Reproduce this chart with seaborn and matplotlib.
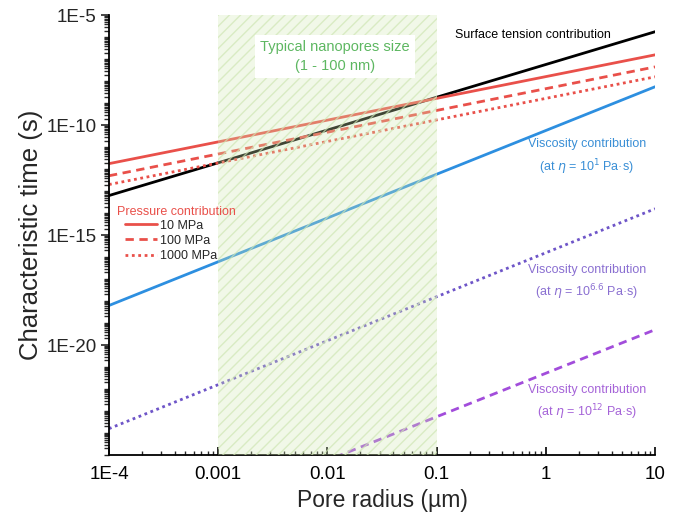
import numpy as np
import pandas as pd
import matplotlib
matplotlib.use("Agg")
import matplotlib.pyplot as plt
import seaborn as sns
from matplotlib.ticker import FixedLocator, FixedFormatter, LogLocator, NullFormatter
from matplotlib.lines import Line2D

# ---------------- data ----------------
radius = [1e-4, 10]                      # pore radius (µm), line end points
surface_tension = [6.3e-14, 1.78e-6]
pressure_10 = [1.78e-12, 1.58e-7]
pressure_100 = [5.0e-13, 4.47e-8]
pressure_1000 = [2.0e-13, 1.58e-8]
viscosity_1 = [6.3e-19, 5.6e-9]
viscosity_6_6 = [1.58e-24, 1.58e-14]
viscosity_12 = [6.3e-30, 5.0e-20]

series_names = ["Surface tension", "10 MPa", "100 MPa", "1000 MPa",
                "eta 1", "eta 6.6", "eta 12"]
series_values = [surface_tension, pressure_10, pressure_100, pressure_1000,
                 viscosity_1, viscosity_6_6, viscosity_12]
pressure_labels = ["10 MPa", "100 MPa", "1000 MPa"]

xtick_values = [1e-4, 1e-3, 1e-2, 1e-1, 1, 10]
xtick_labels = ["1E-4", "0.001", "0.01", "0.1", "1", "10"]
ytick_values = [1e-20, 1e-15, 1e-10, 1e-5]
ytick_labels = ["1E-20", "1E-15", "1E-10", "1E-5"]
nanopore_range = [1e-3, 1e-1]

df = pd.DataFrame({
    "series": np.repeat(series_names, len(radius)),
    "radius": radius * len(series_names),
    "time": np.concatenate(series_values),
})

# ---------------- style ----------------
sns.set_style("ticks")
plt.rcParams["font.family"] = ["Liberation Sans", "DejaVu Sans"]
plt.rcParams["mathtext.fontset"] = "dejavusans"
plt.rcParams["hatch.linewidth"] = 1.0

RED = "#E9504A"
BLUE = "#2D8FE0"
PURPLE1 = "#6E55C8"
PURPLE2 = "#A24DDB"
GREEN_TXT = "#5DB761"

styles = {
    "Surface tension": dict(color="black", ls="-"),
    "10 MPa": dict(color=RED, ls="-"),
    "100 MPa": dict(color=RED, ls=(0, (3, 2))),
    "1000 MPa": dict(color=RED, ls=(0, (1, 1.3))),
    "eta 1": dict(color=BLUE, ls="-"),
    "eta 6.6": dict(color=PURPLE1, ls=(0, (1, 1.3))),
    "eta 12": dict(color=PURPLE2, ls=(0, (3, 2))),
}

fig = plt.figure(figsize=(6.81, 5.18), dpi=100)
ax = fig.add_axes([0.160, 0.1216, 0.802, 0.849])
ax.set_xscale("log")
ax.set_yscale("log")

for name in series_names:
    st = styles[name]
    sns.lineplot(data=df[df["series"] == name], x="radius", y="time", ax=ax,
                 color=st["color"], linestyle=st["ls"], linewidth=2,
                 estimator=None, sort=False, legend=False, zorder=2)

# nanopore band (drawn over the lines, semi-transparent)
ax.axvspan(nanopore_range[0], nanopore_range[1], facecolor="#D3EAB3",
           edgecolor="none", alpha=0.3, zorder=3)
ax.axvspan(nanopore_range[0], nanopore_range[1], facecolor="none",
           edgecolor="#CFE6B4", hatch="///", linewidth=0, alpha=0.7, zorder=3)

ax.set_xlim(1e-4, 10)
ax.set_ylim(1e-25, 1e-5)

# ticks
ax.xaxis.set_major_locator(FixedLocator(xtick_values))
ax.xaxis.set_major_formatter(FixedFormatter(xtick_labels))
ax.xaxis.set_minor_locator(LogLocator(base=10, subs=np.arange(2, 10), numticks=50))
ax.xaxis.set_minor_formatter(NullFormatter())
ax.yaxis.set_major_locator(FixedLocator(ytick_values))
ax.yaxis.set_major_formatter(FixedFormatter(ytick_labels))
ax.yaxis.set_minor_locator(LogLocator(base=10, subs=np.arange(1, 10), numticks=50))
ax.yaxis.set_minor_formatter(NullFormatter())
ax.tick_params(axis="x", which="major", direction="in", length=6, width=1.2,
               labelsize=13.5, pad=8, colors="black")
ax.tick_params(axis="x", which="minor", direction="in", length=3, width=1)
ax.tick_params(axis="y", which="major", direction="out", length=6, width=1.2,
               labelsize=13.5, pad=3)
ax.tick_params(axis="y", which="minor", direction="out", length=3.5, width=1)

for s in ["top", "right"]:
    ax.spines[s].set_visible(False)
for s in ["left", "bottom"]:
    ax.spines[s].set_linewidth(1.3)
    ax.spines[s].set_color("black")

ax.set_xlabel("Pore radius (µm)", fontsize=16.5, labelpad=4)
ax.set_ylabel("Characteristic time (s)", fontsize=18.5, labelpad=2)

# annotations
ax.text(0.414, 0.907, "Typical nanopores size\n(1 - 100 nm)", transform=ax.transAxes,
        ha="center", va="center", fontsize=10.5, color=GREEN_TXT, linespacing=1.45,
        zorder=5, bbox=dict(boxstyle="square,pad=0.35", facecolor="white",
                            edgecolor="none"))
ax.text(0.634, 0.955, "Surface tension contribution", transform=ax.transAxes,
        ha="left", va="center", fontsize=9, color="black", zorder=5)
ax.text(0.875, 0.677, "Viscosity contribution\n(at $\\eta$ = 10$^{1}$ Pa·s)",
        transform=ax.transAxes, ha="center", va="center", fontsize=9,
        color="#3A8FD6", linespacing=1.5, zorder=5)
ax.text(0.875, 0.391, "Viscosity contribution\n(at $\\eta$ = 10$^{6.6}$ Pa·s)",
        transform=ax.transAxes, ha="center", va="center", fontsize=9,
        color="#8A6FD1", linespacing=1.5, zorder=5)
ax.text(0.875, 0.118, "Viscosity contribution\n(at $\\eta$ = 10$^{12}$ Pa·s)",
        transform=ax.transAxes, ha="center", va="center", fontsize=9,
        color="#A563D8", linespacing=1.5, zorder=5)

# pressure legend (title as separate text so entries are indented)
ax.text(0.015, 0.553, "Pressure contribution", transform=ax.transAxes,
        ha="left", va="center", fontsize=9, color=RED, zorder=6)
handles = [Line2D([0], [0], color=RED, lw=2, ls=styles[n]["ls"]) for n in pressure_labels]
leg = ax.legend(handles, pressure_labels,
                loc="upper left", bbox_to_anchor=(0.029, 0.535), frameon=False,
                fontsize=9, handlelength=2.6, handletextpad=0.2,
                labelspacing=0.25, borderaxespad=0, borderpad=0.0)
leg.set_zorder(6)

fig.savefig("out.png", dpi=100)
